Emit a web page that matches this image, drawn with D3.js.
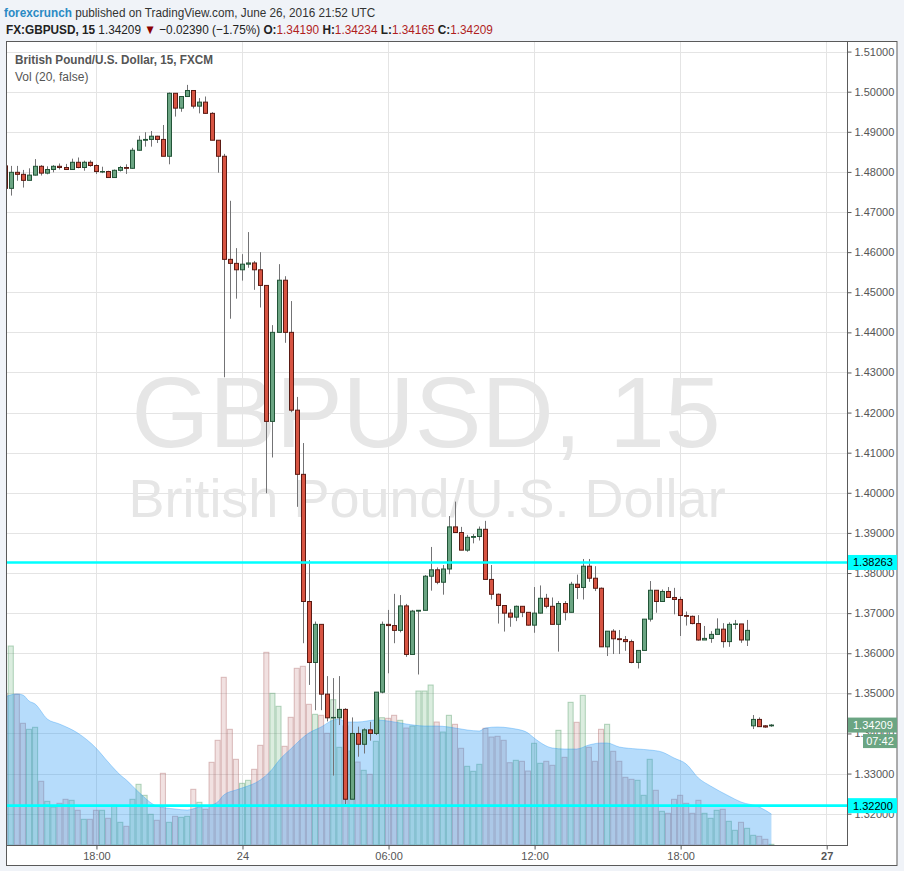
<!DOCTYPE html>
<html><head><meta charset="utf-8">
<script src="https://cdn.jsdelivr.net/npm/d3@7"></script>
<style>
html,body{margin:0;padding:0;background:#f0f3f8;}
svg{display:block;font-family:"Liberation Sans",Arial,sans-serif;}
</style></head><body>
<svg id="chart" width="904" height="871"></svg>
<script>
// ---------------- DATA ----------------
// 15-minute candles, index 1 = 23 Jun 14:15 UTC ... index 123 = 24 Jun 20:45, 124..127 = 26 Jun 21:00..21:45
const firstIndex = 1;
const openP = [1.4815,1.4759,1.4799,1.4794,1.4779,1.4792,1.4814,1.4797,1.4806,1.4814,
1.4811,1.4806,1.4824,1.4811,1.4824,1.4816,1.4801,1.4801,1.4786,1.4804,
1.4811,1.4809,1.4854,1.4879,1.4881,1.4889,1.4881,1.4839,1.4996,1.4959,
1.4988,1.5003,1.4964,1.4974,1.4946,1.4879,1.4839,1.4582,1.4572,1.4556,
1.4570,1.4573,1.4556,1.4517,1.4178,1.4400,1.4530,1.4400,1.4206,1.4046,
1.3729,1.3577,1.3672,1.3498,1.3439,1.3439,1.3460,1.3236,1.3400,1.3373,
1.3409,1.3400,1.3503,1.3672,1.3669,1.3657,1.3718,1.3597,1.3705,1.3707,
1.3792,1.3808,1.3777,1.3810,1.3915,1.3901,1.3857,1.3889,1.3891,1.3909,
1.3784,1.3747,1.3719,1.3700,1.3690,1.3717,1.3702,1.3670,1.3700,1.3737,
1.3717,1.3672,1.3724,1.3702,1.3772,1.3764,1.3817,1.3787,1.3762,1.3616,
1.3655,1.3636,1.3634,1.3629,1.3577,1.3607,1.3685,1.3757,1.3729,1.3754,
1.3739,1.3734,1.3694,1.3692,1.3674,1.3633,1.3637,1.3647,1.3660,1.3629,
1.3672,1.3673,1.3633,1.3419,1.3435,1.3419,1.34190];
const highP = [1.4815,1.4815,1.4815,1.4805,1.4809,1.4832,1.4817,1.4814,1.4817,1.4821,
1.4820,1.4833,1.4836,1.4828,1.4829,1.4819,1.4813,1.4803,1.4806,1.4815,
1.4819,1.4860,1.4890,1.4899,1.4902,1.4890,1.4917,1.4998,1.4996,1.4988,
1.5017,1.5003,1.4984,1.4988,1.4949,1.4879,1.4845,1.4728,1.4610,1.4595,
1.4650,1.4578,1.4600,1.4517,1.4418,1.4570,1.4540,1.4478,1.4239,1.4124,
1.3832,1.3679,1.3672,1.3543,1.3538,1.3543,1.3463,1.3440,1.3417,1.3413,
1.3429,1.3503,1.3679,1.3708,1.3748,1.3745,1.3723,1.3708,1.3707,1.3795,
1.3865,1.3814,1.3820,1.3942,1.3978,1.3915,1.3895,1.3897,1.3916,1.3930,
1.3820,1.3749,1.3719,1.3710,1.3719,1.3717,1.3702,1.3765,1.3769,1.3748,
1.3739,1.3730,1.3730,1.3778,1.3796,1.3835,1.3835,1.3817,1.3764,1.3655,
1.3660,1.3658,1.3643,1.3634,1.3607,1.3685,1.3780,1.3757,1.3759,1.3765,
1.3763,1.3741,1.3704,1.3694,1.3695,1.3668,1.3655,1.3687,1.3675,1.3677,
1.3683,1.3673,1.3683,1.3446,1.3440,1.3421,1.34234];
const lowP = [1.4750,1.4741,1.4778,1.4761,1.4779,1.4791,1.4791,1.4794,1.4799,1.4806,
1.4805,1.4806,1.4809,1.4803,1.4813,1.4795,1.4797,1.4786,1.4785,1.4801,
1.4795,1.4808,1.4853,1.4863,1.4863,1.4872,1.4839,1.4819,1.4938,1.4950,
1.4988,1.4958,1.4946,1.4945,1.4879,1.4798,1.4288,1.4434,1.4484,1.4529,
1.4561,1.4506,1.4462,1.3999,1.4088,1.4400,1.4374,1.4201,1.3965,1.3625,
1.3521,1.3458,1.3458,1.3430,1.3295,1.3421,1.3224,1.3236,1.3342,1.3350,
1.3382,1.3396,1.3500,1.3550,1.3625,1.3652,1.3591,1.3597,1.3547,1.3707,
1.3756,1.3772,1.3746,1.3797,1.3901,1.3857,1.3853,1.3874,1.3881,1.3784,
1.3734,1.3674,1.3654,1.3666,1.3680,1.3690,1.3669,1.3651,1.3699,1.3712,
1.3672,1.3604,1.3682,1.3702,1.3735,1.3734,1.3778,1.3755,1.3616,1.3593,
1.3598,1.3598,1.3606,1.3575,1.3562,1.3607,1.3679,1.3701,1.3729,1.3739,
1.3697,1.3643,1.3669,1.3672,1.3631,1.3633,1.3626,1.3647,1.3614,1.3616,
1.3660,1.3626,1.3618,1.3411,1.3417,1.3414,1.34165];
const closeP = [1.4759,1.4799,1.4794,1.4779,1.4792,1.4814,1.4797,1.4806,1.4814,1.4811,
1.4806,1.4824,1.4811,1.4824,1.4816,1.4801,1.4801,1.4786,1.4804,1.4811,
1.4809,1.4854,1.4879,1.4881,1.4889,1.4881,1.4839,1.4996,1.4959,1.4988,
1.5003,1.4964,1.4974,1.4946,1.4879,1.4839,1.4582,1.4572,1.4556,1.4570,
1.4573,1.4556,1.4517,1.4178,1.4400,1.4530,1.4400,1.4206,1.4046,1.3729,
1.3577,1.3672,1.3498,1.3439,1.3440,1.3460,1.3236,1.3400,1.3373,1.3409,
1.3400,1.3503,1.3672,1.3669,1.3657,1.3718,1.3597,1.3705,1.3707,1.3792,
1.3808,1.3777,1.3810,1.3915,1.3901,1.3857,1.3889,1.3891,1.3909,1.3784,
1.3747,1.3719,1.3700,1.3690,1.3717,1.3702,1.3670,1.3700,1.3737,1.3717,
1.3672,1.3724,1.3702,1.3772,1.3764,1.3817,1.3787,1.3762,1.3616,1.3655,
1.3636,1.3634,1.3629,1.3577,1.3607,1.3685,1.3757,1.3729,1.3754,1.3739,
1.3734,1.3694,1.3692,1.3674,1.3633,1.3637,1.3647,1.3660,1.3629,1.3672,
1.3673,1.3633,1.3657,1.3435,1.3417,1.3416,1.34209];
const volume = [1517,1990,1507,1217,1157,1177,637,437,380,417,
457,447,347,257,257,347,347,267,397,227,
187,457,607,497,307,247,717,227,287,277,
287,557,427,357,827,1047,1677,1157,857,617,
647,757,997,1927,1517,1387,987,1277,1767,1787,
1407,1307,1297,1117,1453,977,1190,940,830,747,
707,1037,1273,1267,1297,1247,1170,1190,1540,1540,
1600,1230,1130,1297,1207,967,787,737,807,1167,
1080,1087,1047,823,847,837,740,1017,817,837,
797,1147,877,1427,1227,1497,977,837,1157,1207,
937,837,677,657,647,497,857,547,337,317,
457,497,417,317,447,317,267,347,357,237,
147,227,167,97,87,57,7];
// Vol (20) moving average, read at these candle indices
const maIndex = [1,3,4,5,6,8,10,13,16,18,20,21,23,26,29,31,33,35,36,37,39,40,43,45,46,48,51,53,55,56,57,59,62,64,67,70,72,74,77,79,80,82,84,85,87,88,91,93,95,97,99,100,102,105,107,109,111,113,115,117,120,122,125,127];
const maValue = [1480,1510,1500,1440,1410,1260,1210,1120,970,830,700,650,530,390,360,350,380,400,430,500,550,570,650,760,840,960,1120,1180,1250,1260,1230,1230,1250,1240,1210,1190,1190,1180,1150,1140,1170,1180,1170,1160,1120,1070,970,960,960,1000,1020,1020,980,960,950,930,870,810,670,590,490,430,380,310];
const tickIndex = [16,40,64,88,112,136];
const tickLabels = ["18:00","24","06:00","12:00","18:00","27"];
const tickBold = [false,false,false,false,false,true];
const priceTicks = [1.32,1.33,1.34,1.35,1.36,1.37,1.38,1.39,1.40,1.41,1.42,1.43,1.44,1.45,1.46,1.47,1.48,1.49,1.50,1.51];
const hLevels = [1.38263, 1.32200];
const lastPrice = 1.34209;
const countdown = "07:42";

// ---------------- LAYOUT ----------------
const P = {l:6, r:847, t:41, b:845};
const frameR = 897.5, frameB = 866;
const svg = d3.select("#chart");

const x = d3.scaleLinear().domain([1.22, 139.42]).range([P.l, P.r]);
const y = d3.scaleLinear().domain([1.31219, 1.51264]).range([P.b, P.t]);
const yV = d3.scaleLinear().domain([0, 2000]).range([P.b, P.b - 200]);

const data = openP.map((o,k)=>({i:k+firstIndex,o,h:highP[k],l:lowP[k],c:closeP[k],v:volume[k]}));
const ma = maIndex.map((d,k)=>({i:d, v:maValue[k]}));

svg.append("rect").attr("width",904).attr("height",871).attr("fill","#f0f3f8");
svg.append("rect").attr("x",P.l).attr("y",P.t).attr("width",frameR-P.l).attr("height",frameB-P.t).attr("fill","#fff");

svg.append("defs").append("clipPath").attr("id","plotclip").append("rect")
  .attr("x",P.l).attr("y",P.t).attr("width",P.r-P.l).attr("height",P.b-P.t);
const g = svg.append("g").attr("clip-path","url(#plotclip)");

// grid
g.selectAll("line.hg").data(priceTicks).join("line")
  .attr("x1",P.l).attr("x2",P.r)
  .attr("y1",d=>Math.round(y(d))+0.5).attr("y2",d=>Math.round(y(d))+0.5)
  .attr("stroke","#e4e4e4");
g.selectAll("line.vg").data(tickIndex).join("line")
  .attr("y1",P.t).attr("y2",P.b)
  .attr("x1",d=>Math.round(x(d))+0.5).attr("x2",d=>Math.round(x(d))+0.5)
  .attr("stroke","#e4e4e4");

// watermark
g.append("text").attr("x",426).attr("y",447).attr("text-anchor","middle")
  .attr("font-size",100).attr("fill","#e6e6e6").text("GBPUSD, 15");
g.append("text").attr("x",427).attr("y",517).attr("text-anchor","middle")
  .attr("font-size",54).attr("fill","#e6e6e6").text("British Pound/U.S. Dollar");

// volume bars
const bw = x(2)-x(1);
g.selectAll("rect.vol").data(data).join("rect")
  .attr("x",d=>x(d.i)-bw/2+0.5).attr("width",bw-1)
  .attr("y",d=>yV(d.v)).attr("height",d=>P.b-yV(d.v))
  .attr("fill",d=>d.c>=d.o?"rgba(90,175,110,0.22)":"rgba(180,90,90,0.18)")
  .attr("stroke",d=>d.c>=d.o?"rgba(90,160,110,0.45)":"rgba(170,100,100,0.4)")
  .attr("stroke-width",1);

// volume MA area
g.append("path").datum(ma)
  .attr("d",d3.area().x(d=>x(d.i)).y0(P.b).y1(d=>yV(d.v)).curve(d3.curveMonotoneX))
  .attr("fill","rgba(33,150,243,0.33)");
g.append("path").datum(ma)
  .attr("d",d3.line().x(d=>x(d.i)).y(d=>yV(d.v)).curve(d3.curveMonotoneX))
  .attr("fill","none").attr("stroke","rgba(33,150,243,0.35)").attr("stroke-width",1);

// candles
g.selectAll("line.wick").data(data).join("line")
  .attr("x1",d=>Math.round(x(d.i))+0.5).attr("x2",d=>Math.round(x(d.i))+0.5)
  .attr("y1",d=>y(d.h)).attr("y2",d=>y(d.l))
  .attr("stroke","#737375").attr("stroke-width",1);
g.selectAll("rect.body").data(data).join("rect")
  .attr("x",d=>Math.round(x(d.i))-1.5).attr("width",4)
  .attr("y",d=>y(Math.max(d.o,d.c))).attr("height",d=>Math.max(0.5,Math.abs(y(d.o)-y(d.c))))
  .attr("fill",d=>d.c>=d.o?"#6ba583":"#d75442")
  .attr("stroke",d=>d.c>=d.o?"#225437":"#5b1a13").attr("stroke-width",1);

// horizontal levels
g.selectAll("line.lvl").data(hLevels).join("line")
  .attr("x1",P.l).attr("x2",P.r).attr("y1",d=>y(d)).attr("y2",d=>y(d))
  .attr("stroke","#00ffff").attr("stroke-width",2.6);

// legend texts in pane
const t1 = svg.append("text").attr("x",15).attr("y",64).attr("font-size",12).attr("font-weight","bold")
  .attr("fill","#555").text("British Pound/U.S. Dollar, 15, FXCM");
const t2 = svg.append("text").attr("x",15).attr("y",81).attr("font-size",12)
  .attr("fill","#555").text("Vol (20, false)");

// frame/axes lines
svg.append("rect").attr("x",P.l+0.5).attr("y",P.t+0.5).attr("width",frameR-P.l-1).attr("height",frameB-P.t-1)
  .attr("fill","none").attr("stroke","#5a5a5a");
svg.append("line").attr("x1",P.r+0.5).attr("x2",P.r+0.5).attr("y1",P.t).attr("y2",P.b+1).attr("stroke","#5a5a5a");
svg.append("line").attr("x1",P.l).attr("x2",P.r+1).attr("y1",P.b+0.5).attr("y2",P.b+0.5).attr("stroke","#5a5a5a");

// price axis
const yAxis = d3.axisRight(y).tickValues(priceTicks).tickFormat(d3.format(".5f")).tickSize(4).tickPadding(3);
const ya = svg.append("g").attr("transform",`translate(${P.r+0.5},0)`).call(yAxis);
ya.select(".domain").remove();
ya.selectAll("line").attr("stroke","#5a5a5a");
ya.selectAll("text").attr("font-size",11).attr("fill","#555").attr("font-family","Liberation Sans, Arial, sans-serif");

// time axis
const xAxis = d3.axisBottom(x).tickValues(tickIndex).tickFormat((d,k)=>tickLabels[k]).tickSize(4).tickPadding(3);
const xa = svg.append("g").attr("transform",`translate(0.5,${P.b+0.5})`).call(xAxis);
xa.select(".domain").remove();
xa.selectAll("line").attr("stroke","#5a5a5a");
xa.selectAll("text").attr("font-size",11).attr("fill","#555").attr("font-family","Liberation Sans, Arial, sans-serif")
  .attr("font-weight",(d,k)=>tickBold[k]?"bold":"normal");

// axis labels for levels
const lab = svg.append("g");
hLevels.forEach(v=>{
  const yy = y(v);
  lab.append("rect").attr("x",P.r+1).attr("y",yy-7.5).attr("width",frameR-P.r-1.5).attr("height",15).attr("fill","#00ffff");
  lab.append("text").attr("x",P.r+6).attr("y",yy+4).attr("font-size",11).attr("fill","#000").text(d3.format(".5f")(v));
});
{
  const yy = y(lastPrice);
  lab.append("rect").attr("x",P.r+1).attr("y",yy-7.5).attr("width",frameR-P.r-1.5).attr("height",15).attr("fill","#6ba583");
  lab.append("text").attr("x",P.r+6).attr("y",yy+4).attr("font-size",11).attr("fill","#fff").text(d3.format(".5f")(lastPrice));
  lab.append("rect").attr("x",863).attr("y",yy+9).attr("width",frameR-863.5).attr("height",14).attr("fill","#6ba583");
  lab.append("text").attr("x",880).attr("y",yy+20).attr("text-anchor","middle").attr("font-size",11).attr("fill","#fff").text(countdown);
}

// header
const h1 = svg.append("text").attr("x",4).attr("y",17).attr("font-size",13);
h1.append("tspan").attr("fill","#2a8ac4").attr("font-weight","bold").text("forexcrunch");
h1.append("tspan").attr("fill","#333").text(" published on TradingView.com, June 26, 2016 21:52 UTC");
const h2 = svg.append("text").attr("x",6).attr("y",34).attr("font-size",13).attr("fill","#222");
h2.append("tspan").attr("font-weight","bold").text("FX:GBPUSD, 15");
h2.append("tspan").text(" 1.34209 ");
h2.append("tspan").attr("fill","#8b0000").text("▼");
h2.append("tspan").text(" \u22120.02390 (\u22121.75%) ");
const ohlc = [["O:","1.34190"],[" H:","1.34234"],[" L:","1.34165"],[" C:","1.34209"]];
ohlc.forEach(([k,v])=>{
  h2.append("tspan").attr("font-weight","bold").text(k);
  h2.append("tspan").attr("fill","#b01e1e").text(v);
});

function fit(sel, x0, w){
  const cur = sel.node().getComputedTextLength();
  if(cur>0){ const s=w/cur; sel.attr("transform",`translate(${x0},0) scale(${s},1) translate(${-x0},0)`); }
}
fit(h1,4,372);
fit(h2,6,487);
fit(t1,15,198);
</script>
</body></html>
